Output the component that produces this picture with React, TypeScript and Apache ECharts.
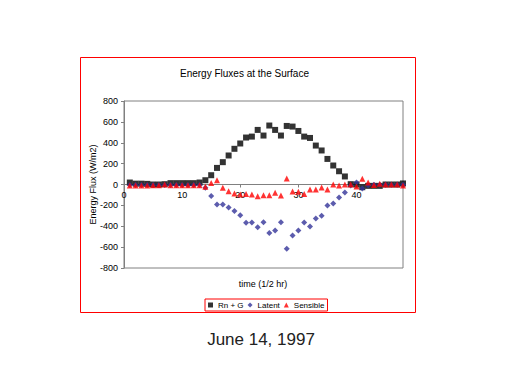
import React, { useEffect, useRef } from "react";
import * as echarts from "echarts";

const halfHours = [1, 2, 3, 4, 5, 6, 7, 8, 9, 10, 11, 12, 13, 14, 15, 16, 17, 18, 19, 20, 21, 22, 23, 24, 25, 26, 27, 28, 29, 30, 31, 32, 33, 34, 35, 36, 37, 38, 39, 40, 41, 42, 43, 44, 45, 46, 47, 48];
const rnG = [19, 8, 8, 6, 0, 0, 3, 13, 13, 13, 13, 13, 19, 41, 89, 159, 214, 278, 342, 393, 450, 459, 523, 469, 565, 523, 469, 561, 555, 513, 459, 446, 373, 326, 245, 182, 127, 77, 3, 0, -26, -13, -13, -13, 0, 0, 0, 10];
const latent = [-5, -5, -5, -5, -5, -5, -5, -5, -5, -5, -5, -5, -5, -30, -109, -191, -191, -220, -255, -294, -367, -364, -409, -362, -464, -440, -361, -616, -488, -440, -364, -402, -325, -300, -201, -182, -125, -77, -10, 19, -38, -7, -3, -3, -3, -3, -3, -3];
const sensible = [-10, -10, -10, -10, -8, -8, 0, -8, -8, -8, -8, -8, -8, -22, 15, 41, -32, -64, -86, -96, -90, -96, -112, -102, -102, -80, -105, 57, -67, -70, -90, -48, -48, -29, -48, 0, -10, 0, 0, -19, 54, 19, -5, 6, 0, 0, 0, -10];

const seriesNames = ["Rn + G", "Latent", "Sensible"];
const titleText = "Energy Fluxes at the Surface";
const xName = "time (1/2 hr)";
const yName = "Energy Flux (W/m2)";
const caption = "June 14, 1997";

const FONT = "'Liberation Sans', Arial, sans-serif";

const GRID_TOP = 101;
const GRID_BOTTOM = 116;
const GRID_H = 384 - GRID_TOP - GRID_BOTTOM;

const pairs = (ys: number[]) => halfHours.map((x, i) => [x, ys[i]]);

export default function App() {
  const ref = useRef<HTMLDivElement>(null);
  useEffect(() => {
    if (!ref.current) return;
    const chart = echarts.init(ref.current, null, { renderer: "svg" });
    chart.setOption({
      animation: false,
      backgroundColor: "#ffffff",
      title: {
        text: titleText,
        left: 180,
        top: 68,
        padding: 0,
        textStyle: { fontFamily: FONT, fontSize: 10, fontWeight: "normal", color: "#000" },
      },
      legend: {
        data: seriesNames,
        left: 205,
        top: 299,
        padding: [2, 3],
        itemGap: 4,
        itemWidth: 5,
        itemHeight: 5,
        borderColor: "#ff0000",
        borderWidth: 1,
        textStyle: { fontFamily: FONT, fontSize: 8, color: "#000" },
      },
      grid: {
        left: 124,
        top: GRID_TOP,
        right: 109,
        bottom: GRID_BOTTOM,
        show: true,
        borderColor: "#808080",
        borderWidth: 1,
        backgroundColor: "#ffffff",
      },
      xAxis: {
        type: "value",
        min: 0,
        max: 48,
        interval: 10,
        position: "bottom",
        offset: -GRID_H / 2,
        splitLine: { show: false },
        axisLine: { onZero: false, lineStyle: { color: "#808080", width: 1 } },
        axisTick: { show: true, length: 3, lineStyle: { color: "#808080" } },
        axisLabel: {
          margin: 6,
          fontFamily: FONT,
          fontSize: 9,
          color: "#000",
          formatter: (v: number) => (v % 10 === 0 ? String(v) : ""),
        },
      },
      yAxis: {
        type: "value",
        min: -800,
        max: 800,
        interval: 200,
        name: yName,
        nameLocation: "middle",
        nameGap: 27,
        nameMoveOverlap: false,
        nameTextStyle: { fontFamily: FONT, fontSize: 9, color: "#000" },
        splitLine: { show: false },
        axisLine: { show: true, lineStyle: { color: "#808080", width: 1 } },
        axisTick: { show: true, length: 3, lineStyle: { color: "#808080" } },
        axisLabel: { margin: 6, fontFamily: FONT, fontSize: 9, color: "#000" },
      },
      graphic: [
        {
          type: "rect",
          shape: { x: 80.5, y: 57.5, width: 335, height: 255 },
          style: { fill: "none", stroke: "#ff0000", lineWidth: 1 },
          silent: true,
          z: -1,
        },
        {
          type: "text",
          x: 263,
          y: 284,
          style: { text: xName, fontFamily: FONT, fontSize: 9, fill: "#000", align: "center", verticalAlign: "middle" },
        },
        {
          type: "text",
          x: 261,
          y: 339,
          style: { text: caption, fontFamily: FONT, fontSize: 17, fill: "#222", align: "center", verticalAlign: "middle" },
        },
      ],
      series: [
        {
          name: seriesNames[0],
          type: "scatter",
          data: pairs(rnG),
          symbol: "rect",
          symbolSize: 6,
          itemStyle: { color: "#000000" },
        },
        {
          name: seriesNames[1],
          type: "scatter",
          data: pairs(latent),
          symbol: "diamond",
          symbolSize: 6,
          itemStyle: { color: "#333399" },
        },
        {
          name: seriesNames[2],
          type: "scatter",
          data: pairs(sensible),
          symbol: "triangle",
          symbolSize: 6,
          itemStyle: { color: "#ff0000" },
        },
      ],
    });
    return () => chart.dispose();
  }, []);
  return <div ref={ref} style={{ position: "fixed", left: 0, top: 0, width: 512, height: 384 }} />;
}
